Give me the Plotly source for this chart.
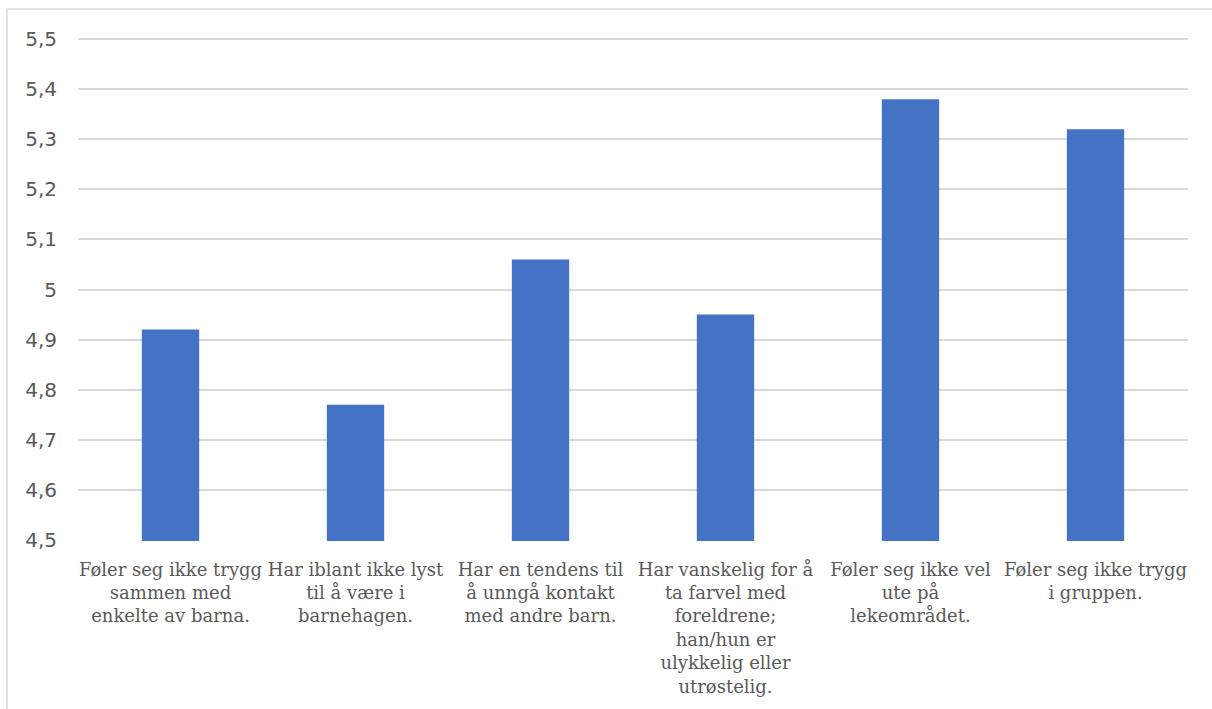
import plotly.graph_objects as go

# Survey items (line breaks as laid out under each bar)
categories = [
    "Føler seg ikke trygg<br>sammen med<br>enkelte av barna.",
    "Har iblant ikke lyst<br>til å være i<br>barnehagen.",
    "Har en tendens til<br>å unngå kontakt<br>med andre barn.",
    "Har vanskelig for å<br>ta farvel med<br>foreldrene;<br>han/hun er<br>ulykkelig eller<br>utrøstelig.",
    "Føler seg ikke vel<br>ute på<br>lekeområdet.",
    "Føler seg ikke trygg<br>i gruppen.",
]
values = [4.92, 4.77, 5.06, 4.95, 5.38, 5.32]

y_tick_values = [4.5, 4.6, 4.7, 4.8, 4.9, 5.0, 5.1, 5.2, 5.3, 5.4, 5.5]
y_tick_labels = ["4,5", "4,6", "4,7", "4,8", "4,9", "5", "5,1", "5,2", "5,3", "5,4", "5,5"]

W, H = 1212, 709
ml, mr, mt, mb = 78, 24, 34, 168
pw, ph = W - ml - mr, H - mt - mb

fig = go.Figure(
    go.Bar(
        x=categories,
        y=values,
        marker=dict(color="#4472C4", line=dict(width=0)),
    )
)

# chart-area border (left and top edges)
bx0 = (7 - ml) / pw
bx1 = (W - ml) / pw
by_top = 1 + (mt - 9) / ph
by_bot = -(mb + 2) / ph
fig.add_shape(type="line", xref="paper", yref="paper", x0=bx0, x1=bx0, y0=by_bot, y1=by_top,
              line=dict(color="#D9D9D9", width=1.5))
fig.add_shape(type="line", xref="paper", yref="paper", x0=bx0, x1=bx1, y0=by_top, y1=by_top,
              line=dict(color="#D9D9D9", width=1.5))

fig.update_layout(
    width=W,
    height=H,
    margin=dict(l=ml, r=mr, t=mt, b=mb, pad=0),
    paper_bgcolor="white",
    plot_bgcolor="white",
    showlegend=False,
    bargap=0.69,
    xaxis=dict(
        showgrid=False,
        showline=False,
        ticks="outside",
        ticklen=12,
        tickcolor="rgba(0,0,0,0)",
        tickangle=0,
        tickfont=dict(family="DejaVu Serif", size=18, color="#595959"),
    ),
    yaxis=dict(
        range=[4.498, 5.51],
        tickvals=y_tick_values,
        ticktext=y_tick_labels,
        showgrid=True,
        gridcolor="#D9D9D9",
        gridwidth=1.5,
        zeroline=False,
        showline=False,
        ticks="outside",
        ticklen=16,
        tickcolor="rgba(0,0,0,0)",
        tickfont=dict(family="DejaVu Sans", size=20, color="#595959"),
    ),
)

fig.write_html("out.html")
